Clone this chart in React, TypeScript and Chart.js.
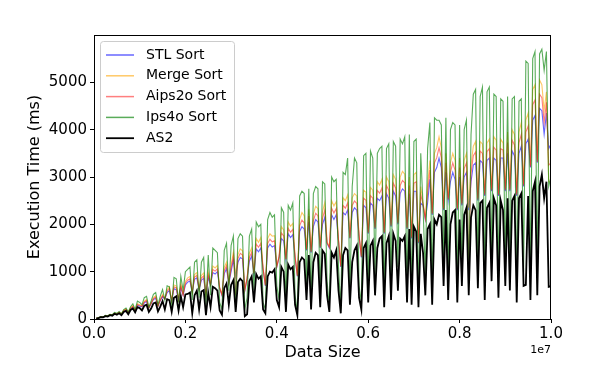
import { useEffect, useRef } from 'react';
import { Chart, registerables } from 'chart.js';

Chart.register(...registerables);

// Data sizes, in thousands of elements
const SIZES_K = [
  50, 100, 150, 200, 250, 300, 350, 400, 450, 500,
  550, 600, 650, 700, 750, 800, 850, 900, 950, 1000,
  1050, 1100, 1150, 1200, 1250, 1300, 1350, 1400, 1450, 1500,
  1550, 1600, 1650, 1700, 1750, 1800, 1850, 1900, 1950, 2000,
  2050, 2100, 2150, 2200, 2250, 2300, 2350, 2400, 2450, 2500,
  2550, 2600, 2650, 2700, 2750, 2800, 2850, 2900, 2950, 3000,
  3050, 3100, 3150, 3200, 3250, 3300, 3350, 3400, 3450, 3500,
  3550, 3600, 3650, 3700, 3750, 3800, 3850, 3900, 3950, 4000,
  4050, 4100, 4150, 4200, 4250, 4300, 4350, 4400, 4450, 4500,
  4550, 4600, 4650, 4700, 4750, 4800, 4850, 4900, 4950, 5000,
  5050, 5100, 5150, 5200, 5250, 5300, 5350, 5400, 5450, 5500,
  5550, 5600, 5650, 5700, 5750, 5800, 5850, 5900, 5950, 6000,
  6050, 6100, 6150, 6200, 6250, 6300, 6350, 6400, 6450, 6500,
  6550, 6600, 6650, 6700, 6750, 6800, 6850, 6900, 6950, 7000,
  7050, 7100, 7150, 7200, 7250, 7300, 7350, 7400, 7450, 7500,
  7550, 7600, 7650, 7700, 7750, 7800, 7850, 7900, 7950, 8000,
  8050, 8100, 8150, 8200, 8250, 8300, 8350, 8400, 8450, 8500,
  8550, 8600, 8650, 8700, 8750, 8800, 8850, 8900, 8950, 9000,
  9050, 9100, 9150, 9200, 9250, 9300, 9350, 9400, 9450, 9500,
  9550, 9600, 9650, 9700, 9750, 9800, 9850, 9900, 9950, 10000,
];

const STL_SORT = [
  12, 25, 42, 40, 65, 60, 85, 80, 115, 100,
  130, 100, 165, 190, 130, 210, 250, 170, 290, 270,
  260, 340, 370, 230, 320, 410, 440, 270, 390, 470,
  420, 560, 600, 380, 640, 620, 400, 660, 500, 720,
  780, 800, 560, 840, 870, 620, 820, 860, 480, 880,
  720, 980, 950, 1000, 650, 500, 960, 1060, 750, 1000,
  1250, 900, 1200, 1300, 1270, 600, 850, 1220, 1330, 950,
  1480, 1420, 1500, 1050, 700, 1500, 1580, 1520, 1550, 1100,
  1300, 1700, 1650, 1250, 1800, 1720, 1780, 1300, 900, 1850,
  1950, 1900, 1450, 2050, 1400, 1950, 2100, 2050, 1500, 2000,
  2150, 1600, 1500, 2200, 2100, 2200, 1650, 1100, 2250, 2200,
  2300, 1700, 2250, 2350, 2300, 1750, 1300, 2400, 2350, 1800,
  2450, 2400, 1900, 2550, 2500, 2600, 1800, 2650, 2550, 1950,
  2700, 2600, 2000, 2650, 2750, 2700, 1900, 2650, 1700, 2700,
  2700, 1600, 2450, 2400, 2100, 2450, 2950, 2200, 3100, 3200,
  3400, 3200, 2300, 3100, 2500, 2900, 3100, 2950, 2300, 3000,
  2400, 3000, 3100, 2300, 2900, 3250, 3300, 2500, 3350, 3300,
  2600, 3350, 3400, 2700, 3400, 3350, 2600, 3400, 3400, 2700,
  3500, 2700, 3550, 3450, 2600, 3500, 3650, 2800, 3700, 3800,
  3200, 4200, 4300, 3300, 4450, 4400, 3900, 4350, 3600, 3700,
];

const MERGE_SORT = [
  14, 28, 48, 44, 72, 66, 95, 88, 125, 110,
  145, 110, 185, 210, 140, 235, 280, 180, 320, 300,
  280, 380, 410, 240, 340, 450, 490, 280, 410, 520,
  430, 620, 680, 390, 720, 700, 410, 740, 520, 800,
  870, 900, 570, 940, 980, 640, 920, 970, 500, 990,
  740, 1120, 1080, 1130, 660, 520, 1090, 1200, 770, 1140,
  1420, 920, 1360, 1480, 1440, 620, 870, 1390, 1500, 970,
  1700, 1620, 1720, 1080, 720, 1700, 1800, 1750, 1760, 1120,
  1330, 1950, 1880, 1270, 2050, 1960, 2020, 1330, 920, 2100,
  2250, 2180, 1480, 2320, 1430, 2220, 2380, 2330, 1530, 2270,
  2460, 1630, 1530, 2500, 2390, 2480, 1680, 1120, 2560, 2500,
  2620, 1730, 2560, 2650, 2600, 1780, 1330, 2720, 2680, 1840,
  2780, 2720, 1940, 2900, 2830, 2950, 1840, 3000, 2900, 1990,
  3050, 2950, 2040, 3000, 3120, 3060, 1940, 3000, 1740, 3050,
  3100, 1630, 2800, 2450, 2140, 2850, 3350, 2240, 3500, 3620,
  3850, 3620, 2350, 3500, 2550, 3300, 3500, 3350, 2350, 3400,
  2450, 3350, 3500, 2350, 3250, 3650, 3750, 2550, 3750, 3700,
  2650, 3720, 3800, 2750, 3850, 3780, 2650, 3800, 3720, 2750,
  3950, 2750, 4000, 3900, 2650, 3950, 4150, 2850, 4200, 4350,
  3250, 4850, 4950, 3350, 5050, 4950, 4400, 4800, 2900, 2900,
];

const AIPS2O_SORT = [
  13, 26, 45, 42, 68, 62, 90, 84, 118, 104,
  138, 104, 175, 200, 134, 222, 265, 174, 305, 285,
  268, 360, 390, 234, 330, 430, 462, 272, 398, 492,
  424, 588, 640, 384, 676, 660, 404, 698, 508, 756,
  820, 846, 564, 888, 920, 628, 866, 910, 488, 930,
  728, 1046, 1012, 1060, 652, 508, 1020, 1126, 758, 1066,
  1330, 500, 1276, 1386, 1350, 608, 858, 1300, 1410, 958,
  1584, 1516, 1600, 1062, 708, 1594, 1684, 1630, 1650, 1108,
  1314, 1820, 1758, 1258, 1918, 1834, 1892, 1314, 908, 1968,
  2092, 2032, 1462, 2176, 1414, 2076, 2232, 2182, 1514, 2128,
  2300, 1612, 1512, 2342, 2238, 2332, 1662, 1108, 2398, 2342,
  2452, 1712, 2398, 2492, 2442, 1762, 1312, 2552, 2508, 1818,
  2608, 2552, 1918, 2718, 2658, 2768, 1818, 2818, 2718, 1968,
  2868, 2768, 2018, 2818, 2928, 2878, 1918, 2818, 1718, 2868,
  2900, 1618, 2620, 2420, 2118, 2648, 3148, 2218, 3298, 3408,
  3618, 3408, 2318, 3298, 2518, 3098, 3298, 3148, 2318, 3198,
  2418, 3178, 3298, 1200, 3078, 3448, 3528, 2518, 3548, 3498,
  2618, 3538, 3598, 2718, 3628, 3568, 2618, 3598, 3568, 2718,
  3728, 2718, 3778, 3678, 2618, 3728, 3898, 2818, 3948, 4078,
  3218, 4528, 4628, 3318, 4748, 4678, 4148, 4578, 3250, 3300,
];

const IPS4O_SORT = [
  15, 30, 50, 45, 80, 70, 100, 90, 140, 120,
  160, 110, 200, 230, 150, 260, 320, 200, 380, 350,
  300, 450, 480, 250, 380, 520, 560, 300, 480, 620,
  400, 700, 680, 300, 880, 850, 350, 900, 600, 1000,
  1050, 1100, 400, 1200, 1250, 450, 1200, 1300, 300, 1350,
  500, 1500, 1450, 1400, 350, 200, 1450, 1600, 600, 1550,
  1750, 300, 1700, 1800, 1750, 200, 450, 1750, 1900, 600,
  2050, 1950, 2000, 350, 200, 2100, 2250, 2150, 2200, 700,
  400, 2350, 2250, 300, 2400, 2300, 2450, 500, 150, 2600,
  2700, 2650, 700, 2750, 300, 2650, 2800, 2750, 450, 2900,
  2850, 800, 250, 3000, 2900, 2950, 1100, 200, 3100, 3050,
  3400, 500, 2800, 3400, 3300, 700, 350, 3450, 3500, 600,
  3550, 3400, 900, 3500, 3600, 3650, 400, 3600, 3700, 700,
  3750, 3650, 1100, 3800, 3700, 3850, 500, 3900, 450, 3750,
  3800, 400, 3500, 2400, 900, 3600, 4150, 500, 4250, 4200,
  4200, 4100, 1200, 4250, 700, 4000, 4150, 4100, 600, 4100,
  1100, 4000, 4200, 800, 3900, 4750, 4850, 1000, 4700, 4900,
  700, 4800, 4900, 1200, 4750, 4700, 800, 4650, 4600, 1100,
  4700, 900, 4650, 4700, 600, 4600, 4650, 1000, 5450, 5400,
  900, 5500, 5650, 900, 5600, 5700, 5250, 5650, 2800, 3000,
];

const AS2 = [
  10, 20, 40, 35, 60, 50, 80, 70, 110, 90,
  120, 80, 150, 170, 100, 190, 220, 140, 250, 230,
  180, 280, 300, 150, 220, 330, 350, 160, 260, 380,
  200, 420, 400, 150, 450, 480, 180, 480, 250, 520,
  530, 560, 120, 500, 600, 200, 580, 610, 80, 550,
  250, 680, 650, 600, 180, 90, 650, 750, 300, 720,
  820, 150, 780, 850, 800, 60, 100, 800, 900, 350,
  950, 850, 900, 200, 120, 900, 1000, 980, 1050, 400,
  250, 1100, 1000, 150, 1150, 1050, 1100, 300, 80, 1200,
  1300, 1250, 400, 1350, 200, 1200, 1400, 1350, 250, 1450,
  1380, 500, 150, 1400, 1300, 1450, 600, 120, 1350, 1500,
  1450, 300, 1200, 1450, 1550, 450, 200, 1500, 1600, 350,
  1550, 1650, 500, 1500, 1700, 1750, 250, 1600, 1750, 400,
  1800, 1650, 600, 1700, 1650, 1750, 350, 1900, 300, 1950,
  1850, 250, 1800, 1400, 500, 1900, 2000, 300, 2100, 2000,
  2200, 2150, 700, 2300, 400, 2000, 2250, 2300, 350, 2100,
  700, 2200, 2350, 500, 2150, 2400, 2300, 650, 2450, 2500,
  400, 2350, 2450, 800, 2550, 2400, 450, 2500, 2300, 700,
  2550, 600, 2500, 2600, 350, 2550, 2650, 700, 720, 2600,
  400, 2700, 2900, 500, 2800, 3050, 2550, 2900, 680, 690,
];

const X_TICKS = [0, 2e6, 4e6, 6e6, 8e6, 1e7];
const Y_TICKS = [0, 1000, 2000, 3000, 4000, 5000];

const SERIES = [
  { label: 'STL Sort', data: STL_SORT, color: 'rgba(0,0,255,0.6)', width: 1.1, order: 5 },
  { label: 'Merge Sort', data: MERGE_SORT, color: 'rgba(255,165,0,0.6)', width: 1.1, order: 4 },
  { label: 'Aips2o Sort', data: AIPS2O_SORT, color: 'rgba(255,0,0,0.5)', width: 1.1, order: 3 },
  { label: 'Ips4o Sort', data: IPS4O_SORT, color: 'rgba(0,128,0,0.65)', width: 1.1, order: 2 },
  { label: 'AS2', data: AS2, color: 'rgba(0,0,0,1)', width: 1.8, order: 1 },
];

const FONT = 'DejaVu Sans';

const overlayPlugin = {
  id: 'overlay',
  afterDraw(chart: any) {
    const { ctx, chartArea: a } = chart;
    ctx.save();
    ctx.strokeStyle = '#000';
    ctx.lineWidth = 1;
    ctx.strokeRect(a.left + 0.5, a.top + 0.5, a.right - a.left - 1, a.bottom - a.top);

    ctx.fillStyle = '#000';
    ctx.font = `16px "${FONT}"`;
    ctx.textAlign = 'center';
    ctx.textBaseline = 'middle';
    ctx.fillText('Data Size', (a.left + a.right) / 2, 353);
    ctx.save();
    ctx.translate(35, (a.top + a.bottom) / 2);
    ctx.rotate(-Math.PI / 2);
    ctx.fillText('Execution Time (ms)', 0, 0);
    ctx.restore();
    ctx.font = `11px "${FONT}"`;
    ctx.textAlign = 'right';
    ctx.fillText('1e7', a.right, 350);

    const bx = 100.5, by = 41.5, bw = 134, bh = 111, r = 3;
    ctx.beginPath();
    ctx.moveTo(bx + r, by);
    ctx.lineTo(bx + bw - r, by);
    ctx.quadraticCurveTo(bx + bw, by, bx + bw, by + r);
    ctx.lineTo(bx + bw, by + bh - r);
    ctx.quadraticCurveTo(bx + bw, by + bh, bx + bw - r, by + bh);
    ctx.lineTo(bx + r, by + bh);
    ctx.quadraticCurveTo(bx, by + bh, bx, by + bh - r);
    ctx.lineTo(bx, by + r);
    ctx.quadraticCurveTo(bx, by, bx + r, by);
    ctx.closePath();
    ctx.fillStyle = 'rgba(255,255,255,0.8)';
    ctx.fill();
    ctx.strokeStyle = '#cccccc';
    ctx.lineWidth = 1;
    ctx.stroke();

    ctx.font = `14px "${FONT}"`;
    ctx.textAlign = 'left';
    ctx.textBaseline = 'middle';
    SERIES.forEach((s, i) => {
      const y = 55 + i * 20.8;
      ctx.strokeStyle = s.color;
      ctx.lineWidth = Math.max(s.width, 1.5);
      ctx.beginPath();
      ctx.moveTo(106, y);
      ctx.lineTo(134, y);
      ctx.stroke();
      ctx.fillStyle = '#000';
      ctx.fillText(s.label, 146, y);
    });
    ctx.restore();
  },
};

export default function App() {
  const ref = useRef<HTMLCanvasElement>(null);

  useEffect(() => {
    const labels = SIZES_K.map((k) => k * 1000);
    const chart = new Chart(ref.current as HTMLCanvasElement, {
      type: 'line',
      data: {
        labels,
        datasets: SERIES.map((s) => ({
          label: s.label,
          data: s.data,
          borderColor: s.color,
          backgroundColor: s.color,
          borderWidth: s.width,
          pointRadius: 0,
          tension: 0,
          fill: false,
          order: s.order,
        })),
      },
      options: {
        responsive: false,
        animation: false,
        events: [],
        layout: { padding: { left: 0, right: 41, top: 35, bottom: 0 } },
        plugins: { legend: { display: false }, tooltip: { enabled: false } },
        scales: {
          x: {
            type: 'linear',
            min: 0,
            max: 1e7,
            afterFit: (s: any) => { s.height = 55; },
            afterBuildTicks: (s: any) => { s.ticks = X_TICKS.map((v) => ({ value: v })); },
            ticks: {
              autoSkip: false,
              maxRotation: 0,
              color: '#000',
              padding: 2,
              font: { family: FONT, size: 15 },
              callback: (v: any) => (Number(v) / 1e7).toFixed(1),
            },
            grid: { drawOnChartArea: false, drawTicks: true, tickLength: 4, tickColor: '#000', tickWidth: 1 },
            border: { display: false },
          },
          y: {
            type: 'linear',
            min: 0,
            max: 6000,
            afterFit: (s: any) => { s.width = 94; },
            afterBuildTicks: (s: any) => { s.ticks = Y_TICKS.map((v) => ({ value: v })); },
            ticks: {
              autoSkip: false,
              color: '#000',
              padding: 3,
              font: { family: FONT, size: 15 },
              callback: (v: any) => String(v),
            },
            grid: { drawOnChartArea: false, drawTicks: true, tickLength: 4, tickColor: '#000', tickWidth: 1 },
            border: { display: false },
          },
        },
      },
      plugins: [overlayPlugin],
    });
    return () => chart.destroy();
  }, []);

  return (
    <div style={{ position: 'absolute', left: 0, top: 0, width: 592, height: 374, background: '#fff' }}>
      <canvas ref={ref} width={592} height={374} style={{ width: 592, height: 374, display: 'block' }} />
    </div>
  );
}
